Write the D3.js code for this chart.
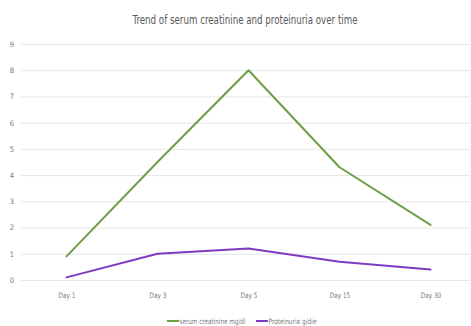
<!DOCTYPE html>
<html><head><meta charset="utf-8">
<script src="https://cdn.jsdelivr.net/npm/d3@7"></script>
<style>body{margin:0;background:#fff}svg{display:block}text{font-family:"Liberation Sans Narrow","Arial Narrow","DejaVu Sans Condensed","Liberation Sans",sans-serif}</style>
</head><body>
<svg id="c" width="471" height="326"></svg>
<script>
const categories = ["Day 1","Day 3","Day 5","Day 15","Day 30"];
const creatinine = [0.9, 4.5, 8.0, 4.3, 2.1];
const proteinuria = [0.1, 1.0, 1.2, 0.7, 0.4];
const yTicks = [0,1,2,3,4,5,6,7,8,9];
const seriesNames = ["serum creatinine mg/dl","Proteinuria g/die"];
const colors = ["#6E9E45","#7E3BC0"];

(function(){
const svg = d3.select("#c");
const mLeft = 21, mRight = 476, mTop = 44, mBottom = 280;
const x = d3.scalePoint().domain(categories).range([mLeft, mRight]).padding(0.5);
const y = d3.scaleLinear().domain([0,9]).range([mBottom, mTop]);

svg.append("text").attr("x",245).attr("y",24).attr("text-anchor","middle")
  .attr("font-size",12.5).attr("fill","#595959")
  .attr("textLength",225).attr("lengthAdjust","spacingAndGlyphs")
  .text("Trend of serum creatinine and proteinuria over time");

const ya = svg.append("g").attr("transform",`translate(${mLeft},0)`)
  .call(d3.axisLeft(y).tickValues(yTicks).tickSize(-(470-mLeft)).tickPadding(7));
ya.select(".domain").remove();
ya.selectAll(".tick line").attr("stroke","#e6e6e6").attr("stroke-width",1);
ya.selectAll(".tick text").attr("fill","#7a7a7a").attr("font-size",7.5);

const xa = svg.append("g").attr("transform",`translate(0,${mBottom})`)
  .call(d3.axisBottom(x).tickSize(0).tickPadding(13));
xa.select(".domain").remove();
xa.selectAll(".tick text").attr("fill","#7a7a7a").attr("font-size",7.5)
  .each(function(){ const w=this.getComputedTextLength(); d3.select(this).attr("textLength",w*0.85).attr("lengthAdjust","spacingAndGlyphs"); });

const line = d3.line().x((d,i)=>x(categories[i])).y(d=>y(d));
[creatinine, proteinuria].forEach((s,k)=>{
  svg.append("path").datum(s).attr("d",line).attr("fill","none")
    .attr("stroke",colors[k]).attr("stroke-width",2).attr("stroke-linejoin","round").attr("stroke-linecap","round");
});

const lg = svg.append("g").attr("transform","translate(0,321)");
const legX = [167, 256];
const legW = [66, 48];
seriesNames.forEach((n,k)=>{
  lg.append("line").attr("x1",legX[k]).attr("x2",legX[k]+12).attr("y1",0).attr("y2",0)
    .attr("stroke",colors[k]).attr("stroke-width",2);
  lg.append("text").attr("x",legX[k]+12.5).attr("y",2.5).attr("font-size",7.5).attr("fill","#7a7a7a")
    .attr("textLength",legW[k]).attr("lengthAdjust","spacingAndGlyphs").text(n);
});
})();
</script>
</body></html>
